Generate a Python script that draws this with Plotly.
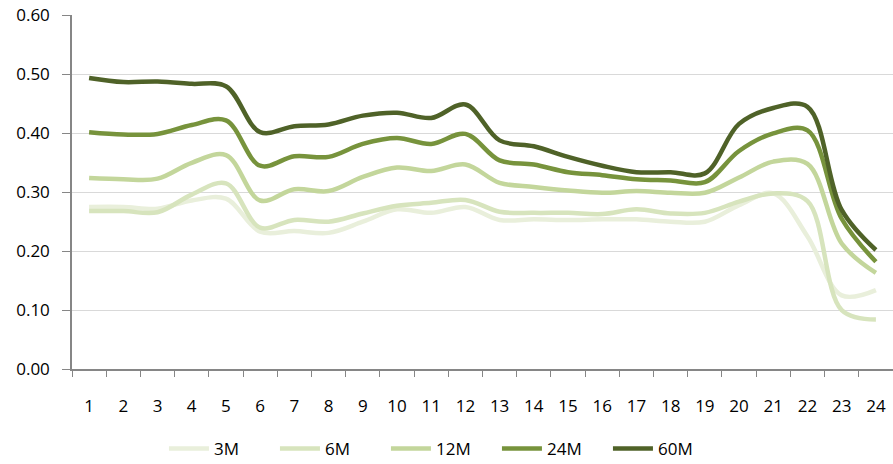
import plotly.graph_objects as go

categories = [str(i) for i in range(1, 25)]

m3 = [0.275, 0.275, 0.272, 0.286, 0.289, 0.233, 0.234, 0.231, 0.250, 0.271, 0.265, 0.275,
      0.253, 0.254, 0.253, 0.254, 0.254, 0.250, 0.250, 0.278, 0.298, 0.225, 0.125, 0.134]
m6 = [0.268, 0.268, 0.266, 0.296, 0.315, 0.240, 0.253, 0.250, 0.264, 0.277, 0.282, 0.287,
      0.267, 0.265, 0.265, 0.263, 0.271, 0.264, 0.265, 0.284, 0.298, 0.285, 0.100, 0.084]
m12 = [0.324, 0.322, 0.323, 0.350, 0.363, 0.286, 0.305, 0.302, 0.326, 0.342, 0.336, 0.347,
       0.316, 0.309, 0.303, 0.299, 0.302, 0.299, 0.299, 0.325, 0.352, 0.348, 0.213, 0.163]
m24 = [0.402, 0.398, 0.399, 0.414, 0.422, 0.345, 0.361, 0.360, 0.382, 0.392, 0.382, 0.399,
       0.354, 0.347, 0.334, 0.329, 0.322, 0.320, 0.317, 0.370, 0.400, 0.405, 0.255, 0.182]
m60 = [0.494, 0.487, 0.488, 0.484, 0.480, 0.402, 0.412, 0.415, 0.430, 0.435, 0.426, 0.449,
       0.388, 0.378, 0.360, 0.345, 0.334, 0.334, 0.332, 0.416, 0.443, 0.445, 0.270, 0.202]

series_names = ["3M", "6M", "12M", "24M", "60M"]
series_values = [m3, m6, m12, m24, m60]
series_colors = ["#e9efdb", "#d7e4bd", "#c3d69b", "#77933c", "#4f6228"]

y_ticks = [0.0, 0.1, 0.2, 0.3, 0.4, 0.5, 0.6]
y_tick_labels = ["0.00", "0.10", "0.20", "0.30", "0.40", "0.50", "0.60"]

FONT = "Open Sans, Liberation Sans, sans-serif"

fig = go.Figure()
for name, vals, col in zip(series_names, series_values, series_colors):
    fig.add_trace(go.Scatter(
        x=categories, y=vals, name=name, mode="lines",
        line=dict(color=col, width=4.5, shape="spline", smoothing=1.0),
    ))

fig.update_layout(
    width=893, height=464,
    margin=dict(l=72, r=0, t=15, b=95, autoexpand=False),
    paper_bgcolor="white", plot_bgcolor="white",
    font=dict(family=FONT, size=17, color="#000000"),
    showlegend=True,
    legend=dict(
        orientation="h", x=0.112, xanchor="left", y=-0.226, yanchor="middle",
        entrywidth=56, entrywidthmode="pixels",
        font=dict(family=FONT, size=17, color="#000000"),
        itemwidth=40,
    ),
    xaxis=dict(
        type="category", range=[-0.5, 23.5], automargin=True,
        showgrid=False, showline=True, linecolor="#868686", linewidth=1.5,
        ticks="outside", tickson="boundaries", ticklen=6, tickcolor="#868686", tickwidth=1,
        ticklabelstandoff=21, ticklabeloverflow="allow",
        tickfont=dict(family=FONT, size=17, color="#000000"),
    ),
    yaxis=dict(
        range=[0, 0.6008], tickvals=y_ticks, ticktext=y_tick_labels, automargin=True,
        showgrid=True, gridcolor="#d9d9d9", gridwidth=1.2,
        showline=True, linecolor="#868686", linewidth=1.5,
        ticks="outside", ticklen=8, tickcolor="#868686",
        ticklabelstandoff=9, zeroline=False, ticklabeloverflow="allow",
        tickfont=dict(family=FONT, size=17, color="#000000"),
    ),
)

fig.write_html("out.html", config={"displayModeBar": False},
               post_script="document.body.style.margin = '0';")
